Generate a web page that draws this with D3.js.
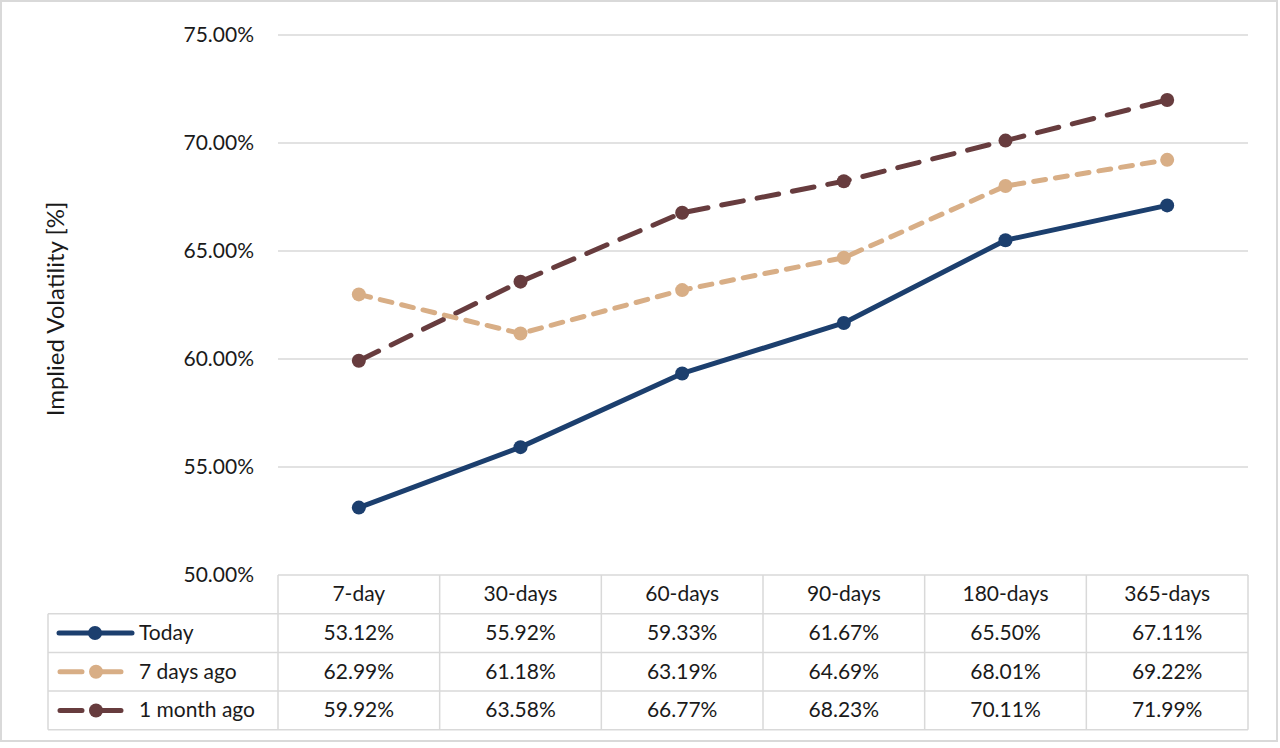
<!DOCTYPE html>
<html>
<head>
<meta charset="utf-8">
<script src="https://cdn.jsdelivr.net/npm/d3@7"></script>
<style>
  body { margin: 0; background: #fff; }
  svg { display: block; font-family: Lato, "Open Sans", sans-serif; }
</style>
</head>
<body>
<div id="chart"></div>
<script>
// data
const categories = ["7-day", "30-days", "60-days", "90-days", "180-days", "365-days"];
const seriesNames = ["Today", "7 days ago", "1 month ago"];
const today = [53.12, 55.92, 59.33, 61.67, 65.50, 67.11];
const weekAgo = [62.99, 61.18, 63.19, 64.69, 68.01, 69.22];
const monthAgo = [59.92, 63.58, 66.77, 68.23, 70.11, 71.99];
const yTicks = [50, 55, 60, 65, 70, 75];

var w = 1280, h = 748;
var plotLeft = 278, plotRight = 1248, plotTop = 35, plotBottom = 575;
var rowH = 38.7;
var legendLeft = 48;
var fontSize = "21px";

var svg = d3.select("#chart").append("svg")
    .attr("width", w)
    .attr("height", h);

// outer chart frame
svg.append("rect")
    .attr("x", 1).attr("y", 1)
    .attr("width", w - 4).attr("height", h - 8)
    .attr("fill", "none")
    .attr("stroke", "#d9d9d9")
    .attr("stroke-width", 2);

var x = d3.scaleBand().domain(categories).range([plotLeft, plotRight]);
var y = d3.scaleLinear().domain([50, 75]).range([plotBottom, plotTop]);

// gridlines
svg.append("g")
    .selectAll("line")
    .data(yTicks)
    .enter()
    .append("line")
    .attr("x1", plotLeft).attr("x2", plotRight)
    .attr("y1", d => y(d)).attr("y2", d => y(d))
    .style("stroke", "#d9d9d9")
    .style("stroke-width", 1.5);

// y axis labels
var yAxis = d3.axisLeft(y).tickValues(yTicks).tickSize(0).tickPadding(24)
    .tickFormat(d => d.toFixed(2) + "%");
var ga = svg.append("g").attr("transform", "translate(" + plotLeft + ",0)").call(yAxis);
ga.select(".domain").remove();
ga.selectAll("text")
    .style("font-family", "Lato, 'Open Sans', sans-serif")
    .style("font-size", fontSize)
    .attr("fill", "#1a1a1a");

svg.append("text")
    .attr("transform", "translate(64,309) rotate(-90)")
    .attr("text-anchor", "middle")
    .style("font-size", "24px")
    .attr("fill", "#1a1a1a")
    .text("Implied Volatility [%]");

var series = [
    { name: seriesNames[0], values: today, color: "#1c3f6e", dash: null, width: 5 },
    { name: seriesNames[1], values: weekAgo, color: "#d8ae86", dash: "12,10", width: 5 },
    { name: seriesNames[2], values: monthAgo, color: "#673c3e", dash: "22,14", width: 5 }
];

var line = d3.line()
    .x((d, i) => x(categories[i]) + x.bandwidth() / 2)
    .y(d => y(d));

// draw back to front: month ago, week ago, today
series.slice().reverse().forEach(function (s) {
    svg.append("path")
        .datum(s.values)
        .attr("d", line)
        .attr("fill", "none")
        .style("stroke", s.color)
        .style("stroke-width", s.width)
        .style("stroke-dasharray", s.dash)
        .style("stroke-linecap", s.dash ? "round" : "butt")
        .style("stroke-linejoin", "round");
    svg.append("g")
        .selectAll("circle")
        .data(s.values)
        .enter()
        .append("circle")
        .attr("cx", (d, i) => x(categories[i]) + x.bandwidth() / 2)
        .attr("cy", d => y(d))
        .attr("r", 7)
        .attr("fill", s.color);
});

// data table
var tbl = svg.append("g");
var gridColor = "#d9d9d9";
var tableBottom = plotBottom + rowH * 4;

for (var r = 1; r <= 4; r++) {
    tbl.append("line")
        .attr("x1", legendLeft).attr("x2", plotRight)
        .attr("y1", plotBottom + rowH * r).attr("y2", plotBottom + rowH * r)
        .style("stroke", gridColor).style("stroke-width", 1.5);
}
// vertical borders
tbl.append("line").attr("x1", legendLeft).attr("x2", legendLeft)
    .attr("y1", plotBottom + rowH).attr("y2", tableBottom)
    .style("stroke", gridColor).style("stroke-width", 1.5);
categories.concat([null]).forEach(function (c) {
    var xx = c === null ? plotRight : x(c);
    tbl.append("line").attr("x1", xx).attr("x2", xx)
        .attr("y1", plotBottom).attr("y2", tableBottom)
        .style("stroke", gridColor).style("stroke-width", 1.5);
});

// header text
tbl.selectAll("text.head")
    .data(categories)
    .enter()
    .append("text")
    .attr("class", "head")
    .attr("x", d => x(d) + x.bandwidth() / 2)
    .attr("y", plotBottom + rowH / 2 + 7)
    .attr("text-anchor", "middle")
    .style("font-size", fontSize)
    .attr("fill", "#1a1a1a")
    .text(d => d);

series.forEach(function (s, r) {
    var cy = plotBottom + rowH * (r + 1) + rowH / 2;
    // legend key
    tbl.append("line")
        .attr("x1", s.dash ? 60 : 59).attr("x2", s.dash ? 121 : 132)
        .attr("y1", cy).attr("y2", cy)
        .style("stroke", s.color)
        .style("stroke-width", 5)
        .style("stroke-linecap", "round")
        .style("stroke-dasharray", s.dash ? "22,19" : null);
    tbl.append("circle")
        .attr("cx", s.dash ? 96 : 95).attr("cy", cy).attr("r", 7)
        .attr("fill", s.color);
    tbl.append("text")
        .attr("x", 139)
        .attr("y", cy + 7)
        .style("font-size", fontSize)
        .attr("fill", "#1a1a1a")
        .text(s.name);
    tbl.selectAll(null)
        .data(s.values)
        .enter()
        .append("text")
        .attr("x", (d, i) => x(categories[i]) + x.bandwidth() / 2)
        .attr("y", cy + 7)
        .attr("text-anchor", "middle")
        .style("font-size", fontSize)
        .attr("fill", "#1a1a1a")
        .text(d => d.toFixed(2) + "%");
});
</script>
</body>
</html>
